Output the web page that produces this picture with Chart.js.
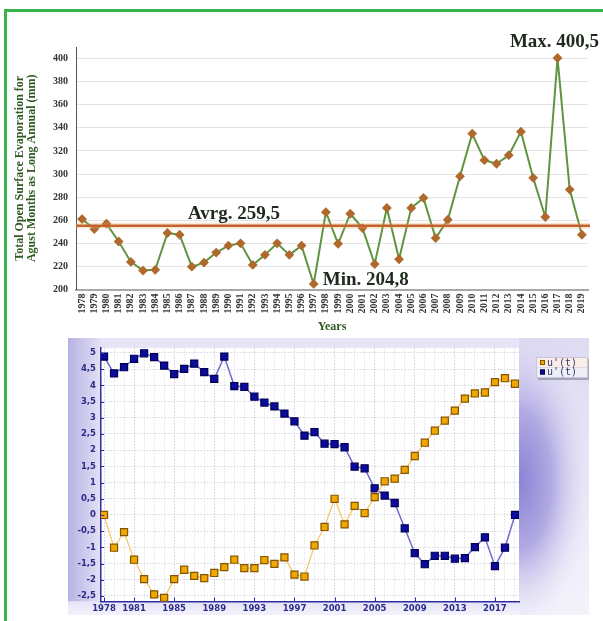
<!DOCTYPE html>
<html>
<head>
<meta charset="utf-8">
<title>Evaporation and Mann-Kendall test</title>
<script src="https://cdn.jsdelivr.net/npm/chart.js@4.4.1/dist/chart.umd.min.js"></script>
<style>
html, body { margin: 0; padding: 0; background: #ffffff; }
body { position: relative; width: 603px; height: 621px; overflow: hidden; }
#frame { position: absolute; left: 4px; top: 9px; right: -20px; bottom: -20px; border-top: 3px solid #37b34a; border-left: 3px solid #37b34a; }
#topChart { position: absolute; left: 0; top: 0; }
#mkChart { position: absolute; left: 68px; top: 338px; }
</style>
</head>
<body>
<div id="frame"></div>
<canvas id="topChart" width="603" height="337"></canvas>
<canvas id="mkChart" width="521" height="277"></canvas>
<script>
// top chart: august evaporation (mm)
const years = ['1978','1979','1980','1981','1982','1983','1984','1985','1986','1987','1988','1989','1990',
  '1991','1992','1993','1994','1995','1996','1997','1998','1999','2000','2001','2002','2003','2004','2005',
  '2006','2007','2008','2009','2010','2011','2012','2013','2014','2015','2016','2017','2018','2019'];
const evaporation = [261, 252.3, 257, 241.6, 223.9, 216.4, 217, 248.9, 247.4, 219.8, 223.3, 232, 238,
  240, 221.3, 230, 240, 230, 238, 204.8, 267, 239.6, 265.6, 253.2, 222, 270.6, 226.2, 270.6,
  279.3, 244.5, 260.4, 298, 335, 312, 308.9, 316.3, 336.7, 296.7, 262.8, 400.5, 286.5, 247.4];
const avgLineValue = 255.3;     // where the average line sits
const avgLabel = 'Avrg. 259,5';

// bottom chart: sequential Mann-Kendall statistics
const mkYears = [1978, 1979, 1980, 1981, 1982, 1983, 1984, 1985, 1986, 1987, 1988, 1989, 1990,
  1991, 1992, 1993, 1994, 1995, 1996, 1997, 1998, 1999, 2000, 2001, 2002, 2003, 2004, 2005,
  2006, 2007, 2008, 2009, 2010, 2011, 2012, 2013, 2014, 2015, 2016, 2017, 2018, 2019];
const uForward = [0, -1.01, -0.53, -1.38, -1.98, -2.45, -2.56, -1.98, -1.69, -1.88, -1.95, -1.79, -1.61,
  -1.38, -1.64, -1.64, -1.39, -1.51, -1.31, -1.84, -1.90, -0.94, -0.37, 0.50, -0.29, 0.28, 0.06, 0.55,
  1.04, 1.12, 1.39, 1.82, 2.23, 2.60, 2.91, 3.22, 3.59, 3.75, 3.78, 4.10, 4.22, 4.05];
const uBackward = [4.89, 4.37, 4.56, 4.82, 4.99, 4.87, 4.61, 4.35, 4.51, 4.67, 4.41, 4.20, 4.89,
  3.98, 3.95, 3.65, 3.47, 3.35, 3.13, 2.89, 2.45, 2.56, 2.20, 2.19, 2.09, 1.49, 1.44, 0.82,
  0.60, 0.37, -0.41, -1.18, -1.52, -1.26, -1.26, -1.35, -1.33, -0.99, -0.69, -1.58, -1.01, 0];
const mkXLabels = [1978, 1981, 1985, 1989, 1993, 1997, 2001, 2005, 2009, 2013, 2017];
const mkYTicks = [-2.5, -2, -1.5, -1, -0.5, 0, 0.5, 1, 1.5, 2, 2.5, 3, 3.5, 4, 4.5, 5];

const fmt = v => String(v).replace('.', ',');
const serif = '"Liberation Serif", "Times New Roman", serif';

const topMarks = {
  id: 'topMarks',
  afterDatasetsDraw(chart) {
    const {ctx, chartArea: a} = chart;
    const y = chart.scales.y.getPixelForValue(avgLineValue);
    ctx.save();
    ctx.strokeStyle = 'rgba(236,170,120,0.3)';
    ctx.lineWidth = 6;
    ctx.beginPath(); ctx.moveTo(a.left, y); ctx.lineTo(a.right + 2, y); ctx.stroke();
    ctx.strokeStyle = '#c4622b';
    ctx.lineWidth = 2.5;
    ctx.beginPath(); ctx.moveTo(a.left, y); ctx.lineTo(a.right + 2, y); ctx.stroke();
    ctx.restore();
  },
  afterDraw(chart) {
    const {ctx, chartArea: a, scales: {x, y}} = chart;
    const hi = Math.max(...evaporation), lo = Math.min(...evaporation);
    const iHi = evaporation.indexOf(hi), iLo = evaporation.indexOf(lo);
    ctx.save();
    ctx.font = 'bold 19px ' + serif;
    ctx.fillStyle = '#1d2a1d';
    ctx.textBaseline = 'alphabetic';
    ctx.textAlign = 'center';
    ctx.fillText('Max. ' + fmt(hi), x.getPixelForValue(iHi) - 3, y.getPixelForValue(hi) - 10.5);
    ctx.textAlign = 'left';
    ctx.fillText('Min. ' + fmt(lo), x.getPixelForValue(iLo) + 9, y.getPixelForValue(lo) + 1);
    ctx.fillText(avgLabel, a.left + 112, y.getPixelForValue(avgLineValue) - 6.5);
    ctx.restore();
  }
};

new Chart(document.getElementById('topChart'), {
  type: 'line',
  data: {
    labels: years,
    datasets: [{
      label: 'Evaporation',
      data: evaporation,
      borderColor: '#5f9440',
      borderWidth: 2,
      pointStyle: 'rectRot',
      pointRadius: 3.5,
      pointBackgroundColor: '#b0692d',
      pointBorderColor: '#b0692d',
      tension: 0
    }]
  },
  options: {
    responsive: false,
    devicePixelRatio: 1,
    animation: false,
    events: [],
    layout: { padding: { top: 47, right: 15, left: 0, bottom: 0 } },
    plugins: { legend: { display: false }, tooltip: { enabled: false } },
    scales: {
      x: {
        type: 'category',
        offset: true,
        grid: { display: false, drawTicks: false },
        border: { color: '#a8a8a8', width: 2 },
        ticks: {
          autoSkip: false, minRotation: 90, maxRotation: 90, padding: 4,
          color: '#333333', font: { family: serif, size: 10, weight: 'bold' }
        },
        title: {
          display: true, text: 'Years', color: '#2f5a22',
          font: { family: serif, size: 12, weight: 'bold', lineHeight: 1.2 },
          padding: { top: 0, bottom: 3 }
        },
        afterFit(s) { s.height = 47.5; }
      },
      y: {
        min: 200, max: 410, bounds: 'data',
        afterBuildTicks(s) { s.ticks = s.ticks.filter(t => t.value <= 400); },
        grid: { color: '#e3e3e3', drawTicks: false },
        border: { color: '#555555', width: 1 },
        ticks: {
          stepSize: 20, includeBounds: false, padding: 8,
          color: '#333333', font: { family: serif, size: 10, weight: 'bold' }
        },
        title: {
          display: true,
          text: ['Total Open Surface Evaporation for', 'Agust Months as Long Annual (mm)'],
          color: '#2f5a22',
          font: { family: serif, size: 12, weight: 'bold', lineHeight: 1 },
          padding: { top: 14, bottom: 0 }
        },
        afterFit(s) { s.width = 76; }
      }
    }
  },
  plugins: [topMarks]
});

const mkPanel = {
  id: 'mkPanel',
  beforeDraw(chart) {
    const {ctx, chartArea: a, width: W, height: H} = chart;
    ctx.save();
    ctx.fillStyle = '#e6e4f6';
    ctx.fillRect(0, 0, W, H);
    let g = ctx.createLinearGradient(0, 0, a.left, 0);
    g.addColorStop(0, '#b6b1e4');
    g.addColorStop(1, '#e3e1f5');
    ctx.fillStyle = g;
    ctx.fillRect(0, 0, a.left, a.bottom);
    g = ctx.createLinearGradient(0, a.bottom, 0, H);
    g.addColorStop(0, '#e6e4f6');
    g.addColorStop(1, '#f3f2fb');
    ctx.fillStyle = g;
    ctx.fillRect(0, a.bottom, W, H - a.bottom);
    ctx.beginPath();
    ctx.rect(a.right, 0, W - a.right, H);
    ctx.clip();
    g = ctx.createLinearGradient(a.right, 0, W, H);
    g.addColorStop(0, '#dcd9f2');
    g.addColorStop(1, '#f4f3fb');
    ctx.fillStyle = g;
    ctx.fillRect(a.right, 0, W - a.right, H);
    ctx.translate(a.right, a.top + (a.bottom - a.top) * 0.52);
    ctx.scale(1, 2.1);
    g = ctx.createRadialGradient(0, 0, 0, 0, 0, 72);
    g.addColorStop(0, '#8b82d4');
    g.addColorStop(0.45, '#b0a9e2');
    g.addColorStop(1, 'rgba(226,224,245,0)');
    ctx.fillStyle = g;
    ctx.fillRect(0, -80, 80, 160);
    ctx.restore();
    ctx.fillStyle = '#ffffff';
    ctx.fillRect(a.left, a.top, a.right - a.left, a.bottom - a.top);
  },
  afterDraw(chart) {
    const {ctx, chartArea: a, scales: {x, y}} = chart;
    ctx.save();
    // small inward tick marks
    ctx.strokeStyle = '#2e2ea0';
    ctx.lineWidth = 1;
    mkYTicks.forEach(v => {
      const py = Math.round(y.getPixelForValue(v)) + 0.5;
      ctx.beginPath(); ctx.moveTo(a.left, py); ctx.lineTo(a.left + 3, py); ctx.stroke();
    });
    mkXLabels.forEach(v => {
      const px = Math.round(x.getPixelForValue(v)) + 0.5;
      ctx.beginPath(); ctx.moveTo(px, a.bottom); ctx.lineTo(px, a.bottom - 4); ctx.stroke();
    });
    // legend box
    const lx = 468, ly = 19, lw = 52, lh = 21;
    ctx.fillStyle = 'rgba(150,150,170,0.8)';
    ctx.fillRect(lx + 2, ly + 2, lw, lh);
    ctx.fillStyle = '#fbeee8';
    ctx.fillRect(lx, ly, lw, lh / 2);
    ctx.fillStyle = '#eeeef7';
    ctx.fillRect(lx, ly + lh / 2, lw, lh / 2);
    ctx.strokeStyle = '#c8c6dc';
    ctx.strokeRect(lx + 0.5, ly + 0.5, lw - 1, lh - 1);
    ctx.font = '10px "DejaVu Sans Mono", monospace';
    ctx.textBaseline = 'middle';
    ctx.textAlign = 'left';
    chart.data.datasets.forEach((ds, i) => {
      const ry = ly + 5.5 + i * 9.5;
      ctx.fillStyle = ds.pointBackgroundColor;
      ctx.strokeStyle = ds.pointBorderColor;
      ctx.fillRect(lx + 4, ry - 2.5, 5, 5);
      ctx.strokeRect(lx + 4.5, ry - 2, 4, 4);
      ctx.fillStyle = '#3a3a6a';
      ctx.fillText(ds.label, lx + 11, ry + 0.5);
    });
    ctx.restore();
  }
};

const mkFont = { family: '"DejaVu Sans", sans-serif', size: 8.5, weight: 'bold' };

new Chart(document.getElementById('mkChart'), {
  type: 'line',
  data: {
    datasets: [{
      label: "u'(t)",
      data: mkYears.map((yr, i) => ({ x: yr, y: uForward[i] })),
      borderColor: '#f6c464',
      borderWidth: 1.2,
      pointStyle: 'rect',
      pointRadius: 5,
      pointBorderWidth: 1.2,
      pointBackgroundColor: '#f0a800',
      pointBorderColor: '#855400',
      tension: 0
    }, {
      label: "u'(t)",
      data: mkYears.map((yr, i) => ({ x: yr, y: uBackward[i] })),
      borderColor: '#6c6cd0',
      borderWidth: 1.5,
      pointStyle: 'rect',
      pointRadius: 5,
      pointBorderWidth: 1.2,
      pointBackgroundColor: '#0b0b9c',
      pointBorderColor: '#000055',
      tension: 0
    }]
  },
  options: {
    responsive: false,
    devicePixelRatio: 1,
    animation: false,
    events: [],
    layout: { padding: { top: 2, right: 70, left: 0, bottom: 0 } },
    plugins: { legend: { display: false }, tooltip: { enabled: false } },
    scales: {
      x: {
        type: 'linear', min: 1977.7, max: 2019.4, bounds: 'data',
        afterBuildTicks(s) { s.ticks = mkYears.map(v => ({ value: v })); },
        grid: {
          drawTicks: false,
          color: c => mkXLabels.includes(c.tick && c.tick.value) ? '#cfcfdc' : '#e0e0e8'
        },
        border: { color: '#2e2ea0', width: 1.5, dash: [1.5, 1.5] },
        ticks: {
          autoSkip: false, maxRotation: 0, padding: 2, color: '#2c2c8a', font: mkFont,
          callback: v => mkXLabels.includes(v) ? String(v) : ''
        },
        afterFit(s) { s.height = 13.5; }
      },
      y: {
        type: 'linear', min: -2.67, max: 5.15, bounds: 'data',
        afterBuildTicks(s) { s.ticks = mkYTicks.map(v => ({ value: v })); },
        grid: { drawTicks: false, color: '#d6d6e0' },
        border: { color: '#2e2ea0', width: 1.5, dash: [1.5, 1.5] },
        ticks: { padding: 5, color: '#2c2c8a', font: mkFont, callback: v => fmt(v) },
        afterFit(s) { s.width = 33; }
      }
    }
  },
  plugins: [mkPanel]
});
</script>
</body>
</html>
